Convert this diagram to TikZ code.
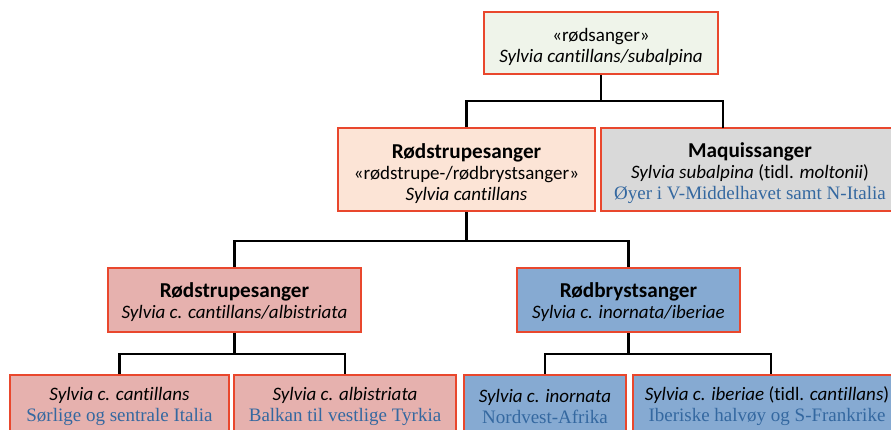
\documentclass[tikz,border=0pt]{standalone}
\usepackage{fontspec}
\setmainfont{Carlito}[Ligatures=CommonOff]
\newfontfamily\placefont{Liberation Serif}
\usetikzlibrary{positioning, calc}
\definecolor{boxred}{HTML}{E9472D}
\definecolor{topgreen}{HTML}{EFF4EA}
\definecolor{peach}{HTML}{FCE4D6}
\definecolor{maqgrey}{HTML}{D9D9D9}
\definecolor{strupepink}{HTML}{E6B1AE}
\definecolor{brystblue}{HTML}{86AAD2}
\definecolor{placeblue}{HTML}{3468A0}
\newcommand{\taxtitle}[1]{{\fontsize{21.2}{21}\selectfont\textbf{#1}}}
\newcommand{\placename}[1]{{\fontsize{19}{21}\placefont\color{placeblue}#1}}

\begin{document}
\begin{tikzpicture}[x=1pt, y=-1pt, font=\fontsize{19}{21}\selectfont,
 taxon/.style={draw=boxred, line width=2.4pt, inner sep=0pt},
 taxtext/.style={align=center, inner sep=0pt},
 link/.style={line width=2.2pt, black}]
 \useasboundingbox (0,0) rectangle (891,430);
 \clip (0,0) rectangle (891,430);
 % level 1
 \node[taxon, fill=topgreen, minimum width=234pt, minimum height=62pt] (rod) at (601,43) {};
 \node[taxtext] at ($(rod.center)+(0,4)$) {«rødsanger»\\\textit{Sylvia cantillans/subalpina}};
 % level 2
 \node[taxon, fill=peach, minimum width=257pt, minimum height=83pt] (cant) at (466.5,169.5) {};
 \node[taxtext] at ($(cant.center)+(0,4)$)
 {\taxtitle{Rødstrupesanger}\\«rødstrupe-/rødbrystsanger»\\\textit{Sylvia cantillans}};
 \node[taxon, fill=maqgrey, minimum width=298pt, minimum height=83pt] (maq) at (750,169.5) {};
 \node[taxtext] at ($(maq.center)+(0,4)$)
 {\taxtitle{Maquissanger}\\\textit{Sylvia subalpina} (tidl. \textit{moltonii})\\
 \placename{Øyer i V-Middelhavet samt N-Italia}};
 \coordinate (maqtop) at (723,128);
 % level 3
 \node[taxon, fill=strupepink, minimum width=253pt, minimum height=64pt] (strupe) at (234.5,300) {};
 \node[taxtext] at ($(strupe.center)+(0,2)$) {\taxtitle{Rødstrupesanger}\\\textit{Sylvia c. cantillans/albistriata}};
 \node[taxon, fill=brystblue, minimum width=223pt, minimum height=64pt] (bryst) at (628.5,300) {};
 \node[taxtext] at ($(bryst.center)+(0,2)$) {\taxtitle{Rødbrystsanger}\\\textit{Sylvia c. inornata/iberiae}};
 % level 4
 \node[taxon, fill=strupepink, minimum width=219pt, minimum height=62pt] (cc) at (119.5,406) {};
 \node[taxtext] at (cc.center) {\textit{Sylvia c. cantillans}\\\placename{Sørlige og sentrale Italia}};
 \node[taxon, fill=strupepink, minimum width=222pt, minimum height=62pt] (ca) at (345,406) {};
 \node[taxtext] at (ca.center) {\textit{Sylvia c. albistriata}\\\placename{Balkan til vestlige Tyrkia}};
 \node[taxon, fill=brystblue, minimum width=162pt, minimum height=62pt] (ci) at (545,406) {};
 \node[taxtext] at (ci.center) {\textit{Sylvia c. inornata}\\\placename{Nordvest-Afrika}};
 \node[taxon, fill=brystblue, minimum width=276pt, minimum height=62pt] (cb) at (771,406) {};
 \node[taxtext] at ($(cb.center)+(-4,0)$) {\textit{Sylvia c. iberiae} (tidl. \textit{cantillans})\\\placename{Iberiske halvøy og S-Frankrike}};
 % connectors
 \draw[link] (rod.south) -- ++(0,26) coordinate (j1) -| (cant.north);
 \draw[link] (j1) -| (maqtop);
 \draw[link] (cant.south) -- ++(0,29) coordinate (j2) -| (strupe.north);
 \draw[link] (j2) -| (bryst.north);
 \draw[link] (strupe.south) -- ++(0,21) coordinate (j3) -| (cc.north);
 \draw[link] (j3) -| (ca.north);
 \draw[link] (bryst.south) -- ++(0,21) coordinate (j4) -| (ci.north);
 \draw[link] (j4) -| (cb.north);
\end{tikzpicture}
\end{document}
